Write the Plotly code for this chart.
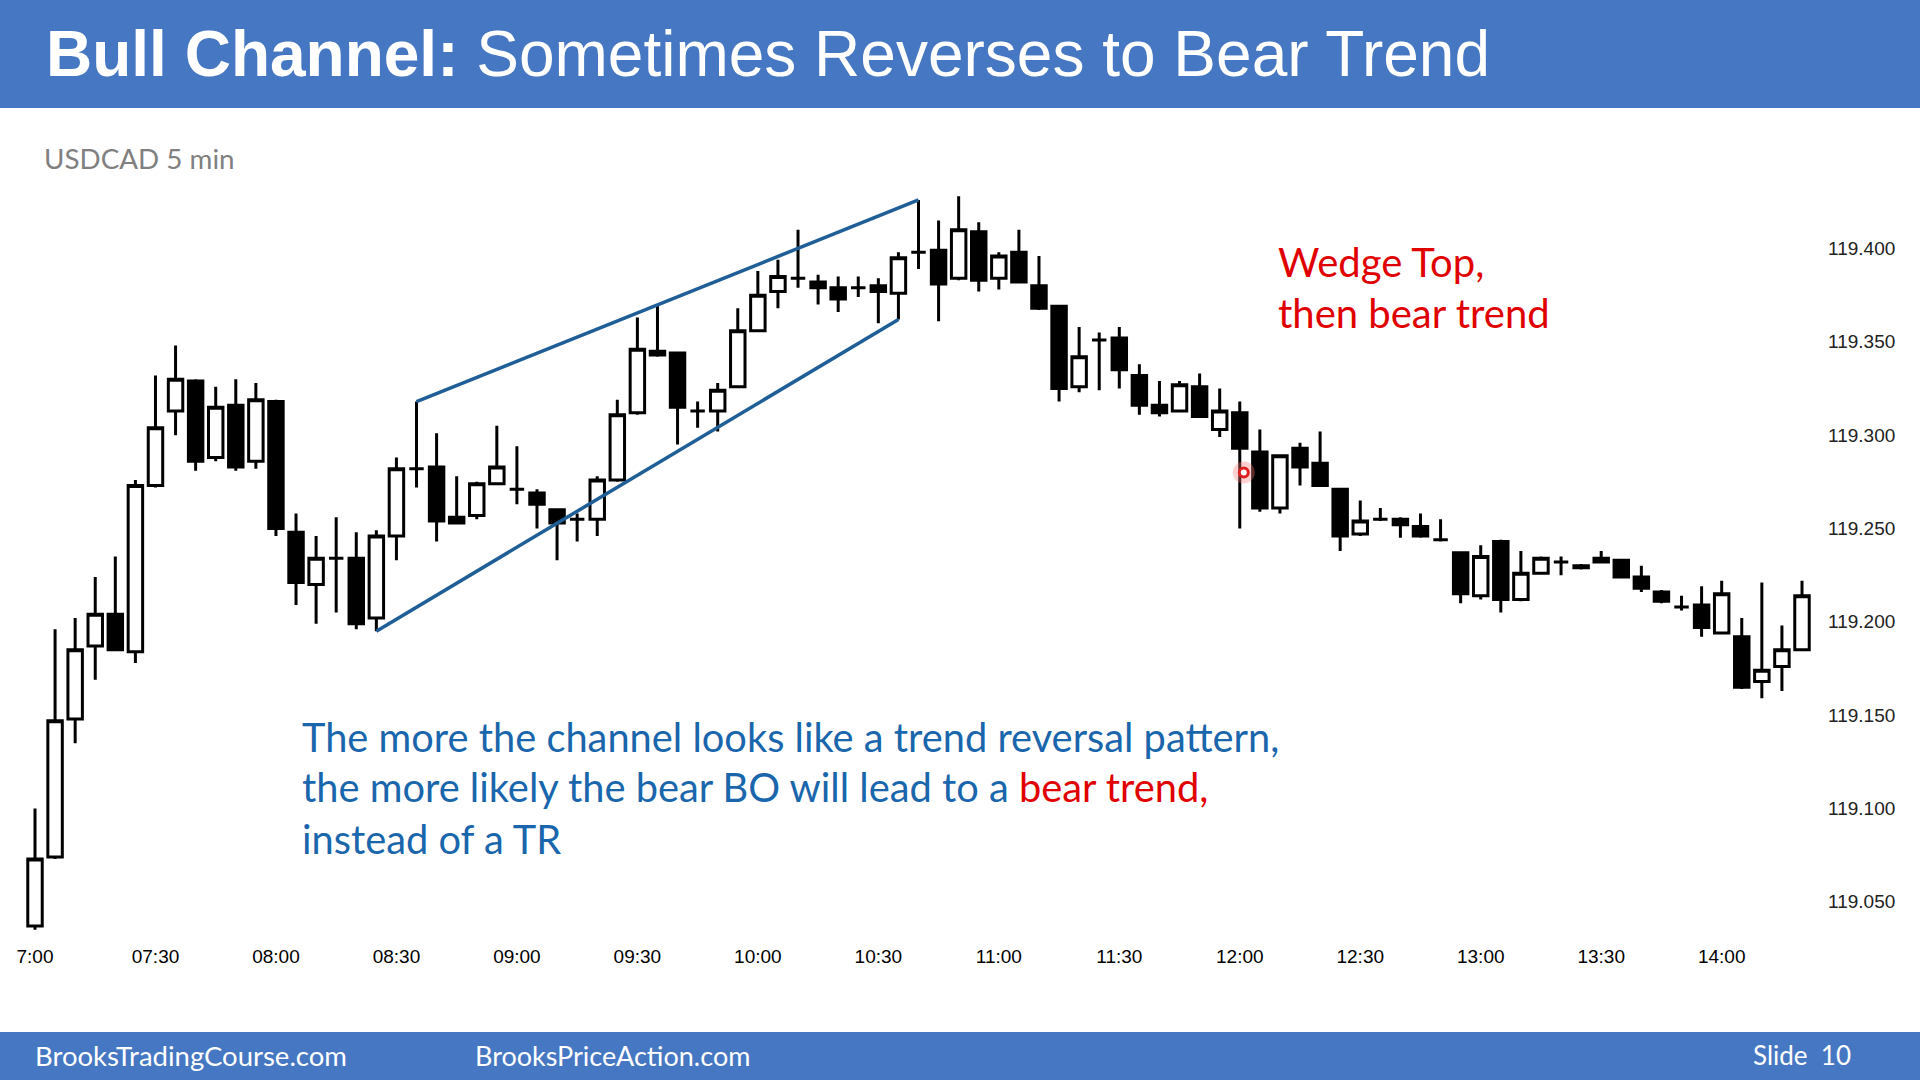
import plotly.graph_objects as go

# ---------------- data (USDCAD 5 min bars, 7:00 .. 14:20) ----------------
bar_index = list(range(89))
opens = [119.037, 119.074, 119.148, 119.187, 119.204, 119.184, 119.273, 119.313, 119.329, 119.288,
         119.316, 119.286, 119.318, 119.248, 119.220, 119.234, 119.234, 119.202, 119.246, 119.282,
         119.283, 119.256, 119.257, 119.274, 119.271, 119.269, 119.260, 119.255, 119.255, 119.276,
         119.312, 119.345, 119.344, 119.313, 119.313, 119.326, 119.356, 119.377, 119.384, 119.382,
         119.379, 119.379, 119.380, 119.376, 119.398, 119.399, 119.384, 119.409, 119.384, 119.398,
         119.380, 119.369, 119.326, 119.351, 119.352, 119.332, 119.316, 119.313, 119.326, 119.303,
         119.312, 119.291, 119.261, 119.293, 119.285, 119.271, 119.247, 119.255, 119.255, 119.251,
         119.244, 119.237, 119.214, 119.243, 119.212, 119.226, 119.232, 119.230, 119.232, 119.233,
         119.224, 119.216, 119.208, 119.209, 119.194, 119.192, 119.168, 119.176, 119.185]
highs = [119.100, 119.196, 119.202, 119.224, 119.235, 119.276, 119.332, 119.348, 119.330, 119.326,
         119.330, 119.328, 119.319, 119.258, 119.246, 119.256, 119.248, 119.249, 119.288, 119.318,
         119.301, 119.278, 119.275, 119.305, 119.294, 119.271, 119.260, 119.258, 119.278, 119.319,
         119.363, 119.370, 119.344, 119.318, 119.328, 119.368, 119.388, 119.394, 119.410, 119.386,
         119.385, 119.385, 119.384, 119.398, 119.426, 119.415, 119.428, 119.414, 119.398, 119.410,
         119.396, 119.369, 119.358, 119.355, 119.358, 119.338, 119.329, 119.329, 119.333, 119.325,
         119.318, 119.303, 119.289, 119.296, 119.302, 119.271, 119.265, 119.261, 119.256, 119.258,
         119.255, 119.237, 119.241, 119.244, 119.238, 119.235, 119.235, 119.231, 119.238, 119.233,
         119.230, 119.217, 119.214, 119.219, 119.222, 119.202, 119.221, 119.198, 119.222]
lows = [119.035, 119.073, 119.135, 119.169, 119.185, 119.178, 119.272, 119.300, 119.281, 119.286,
        119.281, 119.282, 119.246, 119.209, 119.199, 119.205, 119.196, 119.195, 119.233, 119.272,
        119.243, 119.253, 119.255, 119.274, 119.263, 119.250, 119.233, 119.243, 119.246, 119.275,
        119.311, 119.342, 119.295, 119.304, 119.302, 119.326, 119.356, 119.368, 119.379, 119.370,
        119.366, 119.374, 119.360, 119.362, 119.389, 119.361, 119.383, 119.377, 119.378, 119.382,
        119.367, 119.318, 119.323, 119.324, 119.325, 119.311, 119.310, 119.313, 119.310, 119.299,
        119.250, 119.259, 119.258, 119.273, 119.273, 119.238, 119.246, 119.254, 119.245, 119.245,
        119.243, 119.210, 119.212, 119.205, 119.211, 119.226, 119.225, 119.228, 119.232, 119.224,
        119.216, 119.210, 119.206, 119.192, 119.194, 119.164, 119.159, 119.163, 119.185]
closes = [119.073, 119.147, 119.185, 119.204, 119.185, 119.273, 119.304, 119.330, 119.286, 119.315,
          119.283, 119.319, 119.250, 119.221, 119.234, 119.234, 119.199, 119.246, 119.282, 119.282,
          119.254, 119.253, 119.274, 119.283, 119.271, 119.263, 119.253, 119.255, 119.276, 119.311,
          119.346, 119.343, 119.315, 119.313, 119.324, 119.356, 119.375, 119.385, 119.384, 119.379,
          119.373, 119.379, 119.377, 119.395, 119.398, 119.381, 119.410, 119.383, 119.396, 119.382,
          119.368, 119.325, 119.342, 119.351, 119.335, 119.316, 119.312, 119.327, 119.310, 119.313,
          119.293, 119.261, 119.289, 119.283, 119.273, 119.246, 119.254, 119.255, 119.252, 119.246,
          119.244, 119.215, 119.235, 119.212, 119.226, 119.234, 119.232, 119.229, 119.234, 119.224,
          119.218, 119.211, 119.208, 119.197, 119.215, 119.165, 119.174, 119.185, 119.214]

x_tick_pos = [0, 6, 12, 18, 24, 30, 36, 42, 48, 54, 60, 66, 72, 78, 84]
x_tick_text = ["7:00", "07:30", "08:00", "08:30", "09:00", "09:30", "10:00", "10:30",
               "11:00", "11:30", "12:00", "12:30", "13:00", "13:30", "14:00"]
y_tick_vals = [119.05, 119.10, 119.15, 119.20, 119.25, 119.30, 119.35, 119.40]

# wedge lines (bar index, price)
upper_x = [19, 44]
upper_y = [119.318, 119.426]
lower_x = [17, 43]
lower_y = [119.195, 119.362]

# pointer dot
dot_x = [60.2]
dot_y = [119.280]

# ---------------- layout geometry (pixels) ----------------
W, H = 1920, 1080
L, R, T, B = 10, 1815, 180, 940
px_per_bar = 20.08
x0 = -(35 - L) / px_per_bar
x1 = 88 + (R - 1802) / px_per_bar
y_top = 119.400 + (248.5 - T) / 1866.6
y_bot = 119.400 - (B - 248.5) / 1866.6


def px(X):
    return (X - L) / (R - L)


def py(Y):
    return (B - Y) / (B - T)


fig = go.Figure()

fig.add_trace(go.Candlestick(
    x=bar_index, open=opens, high=highs, low=lows, close=closes,
    increasing=dict(fillcolor="white", line=dict(color="black", width=3)),
    decreasing=dict(fillcolor="black", line=dict(color="black", width=3)),
    whiskerwidth=0, showlegend=False, hoverinfo="skip"))

wedge_color = "#1F5E96"
fig.add_trace(go.Scatter(x=upper_x, y=upper_y, mode="lines",
                         line=dict(color=wedge_color, width=3.5), showlegend=False, hoverinfo="skip"))
fig.add_trace(go.Scatter(x=lower_x, y=lower_y, mode="lines",
                         line=dict(color=wedge_color, width=3.5), showlegend=False, hoverinfo="skip"))

fig.add_trace(go.Scatter(x=dot_x, y=dot_y, mode="markers",
                         marker=dict(size=22, color="rgba(255,120,120,0.35)", line=dict(width=0)),
                         showlegend=False, hoverinfo="skip"))
fig.add_trace(go.Scatter(x=dot_x, y=dot_y, mode="markers",
                         marker=dict(size=9, color="white", line=dict(color="#E02020", width=3)),
                         showlegend=False, hoverinfo="skip"))

BLUE_BAR = "#4677C2"
shapes = [
    dict(type="rect", xref="paper", yref="paper", x0=px(0), x1=px(W), y0=py(108), y1=py(0),
         fillcolor=BLUE_BAR, line=dict(width=0), layer="below"),
    dict(type="rect", xref="paper", yref="paper", x0=px(0), x1=px(W), y0=py(H), y1=py(1032),
         fillcolor=BLUE_BAR, line=dict(width=0), layer="below"),
]

TXT_BLUE = "#1A66AC"
RED = "#E00000"
SANS = "Lato, Carlito, Calibri, sans-serif"
annotations = [
    dict(x=px(44), y=py(54), xref="paper", yref="paper", xanchor="left", yanchor="middle",
         text="<b>Bull Channel:</b> Sometimes Reverses to Bear Trend", showarrow=False,
         font=dict(family="Liberation Sans, Arial, sans-serif", size=64, color="white")),
    dict(x=px(42), y=py(158), xref="paper", yref="paper", xanchor="left", yanchor="middle",
         text="USDCAD 5 min", showarrow=False, font=dict(family=SANS, size=27.8, color="#808080")),
    dict(x=px(1276), y=py(262), xref="paper", yref="paper", xanchor="left", yanchor="middle",
         text="Wedge Top,", showarrow=False, font=dict(family=SANS, size=40, color=RED)),
    dict(x=px(1276), y=py(313), xref="paper", yref="paper", xanchor="left", yanchor="middle",
         text="then bear trend", showarrow=False, font=dict(family=SANS, size=40, color=RED)),
    dict(x=px(300), y=py(736), xref="paper", yref="paper", xanchor="left", yanchor="middle",
         text="The more the channel looks like a trend reversal pattern,", showarrow=False,
         font=dict(family=SANS, size=39.8, color=TXT_BLUE)),
    dict(x=px(300), y=py(786), xref="paper", yref="paper", xanchor="left", yanchor="middle",
         text="the more likely the bear BO will lead to a <span style='color:" + RED + "'>bear trend,</span>",
         showarrow=False, font=dict(family=SANS, size=39.8, color=TXT_BLUE)),
    dict(x=px(300), y=py(838), xref="paper", yref="paper", xanchor="left", yanchor="middle",
         text="instead of a TR", showarrow=False, font=dict(family=SANS, size=39.8, color=TXT_BLUE)),
    dict(x=px(33), y=py(1055), xref="paper", yref="paper", xanchor="left", yanchor="middle",
         text="BrooksTradingCourse.com", showarrow=False, font=dict(family=SANS, size=27.5, color="white")),
    dict(x=px(473), y=py(1055), xref="paper", yref="paper", xanchor="left", yanchor="middle",
         text="BrooksPriceAction.com", showarrow=False, font=dict(family=SANS, size=27, color="white")),
    dict(x=px(1751), y=py(1055), xref="paper", yref="paper", xanchor="left", yanchor="middle",
         text="Slide  10", showarrow=False, font=dict(family=SANS, size=26, color="white")),
]

fig.update_layout(
    width=W, height=H,
    margin=dict(l=L, r=W - R, t=T, b=H - B, pad=0),
    paper_bgcolor="white", plot_bgcolor="white",
    showlegend=False, boxgap=0.28, boxgroupgap=0,
    shapes=shapes, annotations=annotations,
    xaxis=dict(range=[x0, x1], tickvals=x_tick_pos, ticktext=x_tick_text,
               showgrid=False, zeroline=False, showline=False, ticks="",
               rangeslider=dict(visible=False), fixedrange=True,
               tickfont=dict(family="Liberation Sans Narrow, Liberation Sans, Arial", size=19, color="black"),
               ticklabelstandoff=3),
    yaxis=dict(range=[y_bot, y_top], side="right", tickvals=y_tick_vals, tickformat=".3f",
               showgrid=False, zeroline=False, showline=False, ticks="",
               tickfont=dict(family="Liberation Sans, Arial", size=19, color="#222222"),
               ticklabelstandoff=12, fixedrange=True),
)

fig.write_html("out.html", config={"displayModeBar": False})
